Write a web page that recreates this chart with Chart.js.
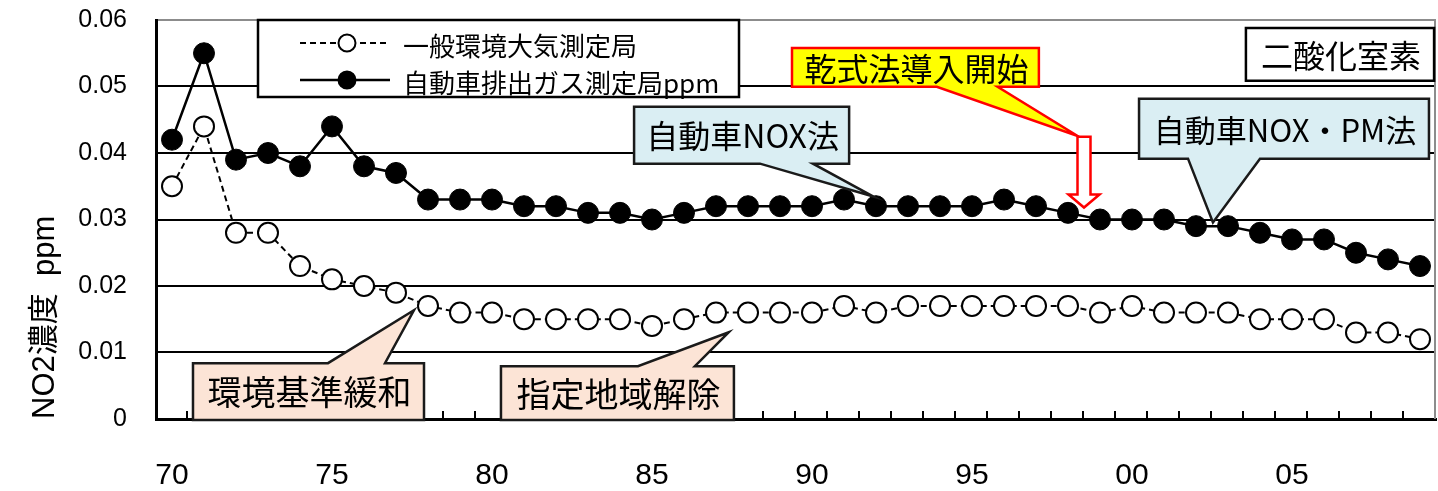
<!DOCTYPE html>
<html>
<head>
<meta charset="utf-8">
<script src="https://cdn.jsdelivr.net/npm/chart.js@4/dist/chart.umd.min.js"></script>
<style>
  html, body { margin: 0; padding: 0; background: #ffffff; }
  canvas { display: block; }
</style>
</head>
<body>
<canvas id="no2" width="1438" height="491"></canvas>
<script>
// 年度 (1970–2009)
const years = [
  1970, 1971, 1972, 1973, 1974, 1975, 1976, 1977, 1978, 1979,
  1980, 1981, 1982, 1983, 1984, 1985, 1986, 1987, 1988, 1989,
  1990, 1991, 1992, 1993, 1994, 1995, 1996, 1997, 1998, 1999,
  2000, 2001, 2002, 2003, 2004, 2005, 2006, 2007, 2008, 2009
];

// 一般環境大気測定局 年平均値 (ppm)
const ambientNO2 = [
  0.035, 0.044, 0.028, 0.028, 0.023, 0.021, 0.020, 0.019, 0.017, 0.016,
  0.016, 0.015, 0.015, 0.015, 0.015, 0.014, 0.015, 0.016, 0.016, 0.016,
  0.016, 0.017, 0.016, 0.017, 0.017, 0.017, 0.017, 0.017, 0.017, 0.016,
  0.017, 0.016, 0.016, 0.016, 0.015, 0.015, 0.015, 0.013, 0.013, 0.012
];

// 自動車排出ガス測定局 年平均値 (ppm)
const roadsideNO2 = [
  0.042, 0.055, 0.039, 0.040, 0.038, 0.044, 0.038, 0.037, 0.033, 0.033,
  0.033, 0.032, 0.032, 0.031, 0.031, 0.030, 0.031, 0.032, 0.032, 0.032,
  0.032, 0.033, 0.032, 0.032, 0.032, 0.032, 0.033, 0.032, 0.031, 0.030,
  0.030, 0.030, 0.029, 0.029, 0.028, 0.027, 0.027, 0.025, 0.024, 0.023
];

// 目盛ラベル
const xTickLabels = ['70', '75', '80', '85', '90', '95', '00', '05'];
const yTickLabels = ['0', '0.01', '0.02', '0.03', '0.04', '0.05', '0.06'];

const seriesNames = ['一般環境大気測定局', '自動車排出ガス測定局ppm'];

// 吹き出し: 位置は (年インデックス, 濃度) で指定
const callouts = [
  { text: '乾式法導入開始', box: [19.375, 0.0558, 27.09, 0.04995],
    tail: { side: 'bottom', from: 23.9, to: 25.8, tip: [28.3, 0.04255] },
    fill: '#ffff00', stroke: '#ff0000', size: 32 },
  { text: '自動車NOX法', box: [14.44, 0.04695, 21.16, 0.0384],
    tail: { side: 'bottom', from: 18.375, to: 20.03, tip: [21.92, 0.03345] },
    fill: '#daeef3', stroke: '#1a1a1a', size: 32 },
  { text: '自動車NOX・PM法', box: [30.22, 0.04815, 39.28, 0.03915],
    tail: { side: 'bottom', from: 31.75, to: 34.0, tip: [32.53, 0.02955] },
    fill: '#daeef3', stroke: '#1a1a1a', size: 31 },
  { text: '二酸化室素', box: [33.56, 0.0588, 39.44, 0.05085],
    tail: null, fill: '#ffffff', stroke: '#000000', size: 32 },
  { text: '環境基準緩和', box: [0.656, 0.0084, 7.875, -0.00015],
    tail: { side: 'top', from: 4.875, to: 6.656, tip: [7.56, 0.01635] },
    fill: '#fce4d6', stroke: '#1a1a1a', size: 34 },
  { text: '指定地域解除', box: [10.28, 0.00795, 17.56, -0.00015],
    tail: { side: 'top', from: 14.56, to: 16.34, tip: [17.4, 0.01305] },
    fill: '#fce4d6', stroke: '#1a1a1a', size: 34 }
];

// 乾式法導入を示す下向き矢印 (x: 年インデックス, y: 濃度)
const dryMethodArrow = { x: 28.5, top: 0.04245, shaftBottom: 0.03375, tip: 0.0318 };

const CJK = "'Noto Sans CJK JP', 'Noto Sans', sans-serif";
const LATIN = "'Liberation Sans', Arial, 'Noto Sans CJK JP', sans-serif";

// x 軸の内向き目盛線と枠線
const frameTicks = {
  id: 'frameTicks',
  afterDraw(chart) {
    const { ctx, chartArea: a, scales: { x } } = chart;
    ctx.save();
    ctx.strokeStyle = '#000';
    ctx.lineWidth = 2;
    ctx.beginPath();
    for (let k = 1; k <= years.length; k++) {
      const px = Math.round(x.getPixelForValue(k - 0.5)) - 1;
      ctx.moveTo(px, a.bottom);
      ctx.lineTo(px, a.bottom - 8);
    }
    ctx.stroke();
    ctx.strokeStyle = '#8c8c8c';
    ctx.beginPath();
    ctx.moveTo(a.right - 1, a.top);
    ctx.lineTo(a.right - 1, a.bottom);
    ctx.stroke();
    ctx.restore();
  }
};

function drawCallout(ctx, x, y, c) {
  const L = x.getPixelForValue(c.box[0]);
  const T = y.getPixelForValue(c.box[1]);
  const R = x.getPixelForValue(c.box[2]);
  const B = y.getPixelForValue(c.box[3]);
  ctx.beginPath();
  if (c.tail && c.tail.side === 'bottom') {
    const b1 = x.getPixelForValue(c.tail.from), b2 = x.getPixelForValue(c.tail.to);
    const tx = x.getPixelForValue(c.tail.tip[0]), ty = y.getPixelForValue(c.tail.tip[1]);
    ctx.moveTo(L, T); ctx.lineTo(R, T); ctx.lineTo(R, B);
    ctx.lineTo(b2, B); ctx.lineTo(tx, ty); ctx.lineTo(b1, B);
    ctx.lineTo(L, B);
  } else if (c.tail && c.tail.side === 'top') {
    const b1 = x.getPixelForValue(c.tail.from), b2 = x.getPixelForValue(c.tail.to);
    const tx = x.getPixelForValue(c.tail.tip[0]), ty = y.getPixelForValue(c.tail.tip[1]);
    ctx.moveTo(L, T); ctx.lineTo(b1, T); ctx.lineTo(tx, ty); ctx.lineTo(b2, T);
    ctx.lineTo(R, T); ctx.lineTo(R, B); ctx.lineTo(L, B);
  } else {
    ctx.rect(L, T, R - L, B - T);
  }
  ctx.closePath();
  ctx.fillStyle = c.fill;
  ctx.fill();
  ctx.lineWidth = 2.5;
  ctx.lineJoin = 'miter';
  ctx.strokeStyle = c.stroke;
  ctx.stroke();
  ctx.fillStyle = '#000';
  ctx.font = c.size + 'px ' + CJK;
  ctx.textAlign = 'center';
  ctx.textBaseline = 'middle';
  ctx.fillText(c.text, (L + R) / 2 + 1, (T + B) / 2 + 1);
}

function drawArrow(ctx, x, y, a) {
  const cx = x.getPixelForValue(a.x);
  const top = y.getPixelForValue(a.top);
  const sb = y.getPixelForValue(a.shaftBottom);
  const tip = y.getPixelForValue(a.tip);
  const sw = 6.5, hw = 15.5;
  ctx.beginPath();
  ctx.moveTo(cx - sw, top); ctx.lineTo(cx + sw, top); ctx.lineTo(cx + sw, sb);
  ctx.lineTo(cx + hw, sb); ctx.lineTo(cx, tip); ctx.lineTo(cx - hw, sb);
  ctx.lineTo(cx - sw, sb); ctx.closePath();
  ctx.fillStyle = '#ffffff';
  ctx.fill();
  ctx.lineWidth = 2.5;
  ctx.strokeStyle = '#ff0000';
  ctx.stroke();
}

// 凡例と注記
const notes = {
  id: 'notes',
  afterDraw(chart) {
    const { ctx, chartArea: a, scales: { x, y } } = chart;
    ctx.save();
    // 凡例枠
    const lx = a.left + 102, ly = a.top, lw = 481, lh = 77;
    ctx.fillStyle = '#fff';
    ctx.fillRect(lx, ly, lw, lh);
    ctx.lineWidth = 2.5;
    ctx.strokeStyle = '#000';
    ctx.strokeRect(lx, ly, lw, lh);
    const rows = [ly + 23, ly + 60];
    chart.data.datasets.forEach((ds, i) => {
      const ry = rows[i];
      ctx.beginPath();
      ctx.setLineDash(ds.borderDash || []);
      ctx.lineWidth = ds.borderWidth;
      ctx.strokeStyle = ds.borderColor;
      ctx.moveTo(lx + 42, ry);
      ctx.lineTo(lx + 132, ry);
      ctx.stroke();
      ctx.setLineDash([]);
      ctx.beginPath();
      ctx.arc(lx + 89, ry, 8.5, 0, Math.PI * 2);
      ctx.fillStyle = ds.pointBackgroundColor;
      ctx.fill();
      ctx.lineWidth = 2;
      ctx.strokeStyle = ds.pointBorderColor;
      ctx.stroke();
      ctx.fillStyle = '#000';
      ctx.font = '26px ' + CJK;
      ctx.textAlign = 'left';
      ctx.textBaseline = 'middle';
      ctx.fillText(ds.label, lx + 145, ry + 3);
    });
    callouts.forEach(c => drawCallout(ctx, x, y, c));
    drawArrow(ctx, x, y, dryMethodArrow);
    ctx.restore();
  }
};

new Chart(document.getElementById('no2'), {
  type: 'line',
  data: {
    labels: years,
    datasets: [
      {
        label: seriesNames[0],
        data: ambientNO2,
        borderColor: '#000',
        borderWidth: 2,
        borderDash: [6, 4],
        pointRadius: 10,
        pointBorderWidth: 2,
        pointBackgroundColor: '#fff',
        pointBorderColor: '#000',
        tension: 0
      },
      {
        label: seriesNames[1],
        data: roadsideNO2,
        borderColor: '#000',
        borderWidth: 2.5,
        pointRadius: 10.5,
        pointBorderWidth: 1,
        pointBackgroundColor: '#000',
        pointBorderColor: '#000',
        tension: 0
      }
    ]
  },
  options: {
    responsive: false,
    animation: false,
    devicePixelRatio: 1,
    layout: { autoPadding: false, padding: { top: 20, right: 2, left: 0, bottom: 0 } },
    plugins: { legend: { display: false }, tooltip: { enabled: false } },
    scales: {
      x: {
        type: 'category',
        offset: true,
        grid: { display: false, drawTicks: false },
        border: { display: true, color: '#000', width: 3 },
        ticks: {
          autoSkip: false,
          maxRotation: 0,
          padding: 39,
          color: '#000',
          font: { family: LATIN, size: 30 },
          callback: (v, i) => (i % 5 === 0 ? xTickLabels[i / 5] : '')
        },
        afterFit: s => {
          s.height = 72;
          s.paddingLeft = 0; s.paddingRight = 0;
        }
      },
      y: {
        min: 0,
        max: 0.06,
        grid: {
          drawTicks: false,
          lineWidth: 2,
          color: c => (c.index === 6 ? '#8c8c8c' : '#000')
        },
        border: { display: true, color: '#000', width: 3 },
        ticks: {
          stepSize: 0.01,
          padding: 29,
          color: '#000',
          font: { family: LATIN, size: 25 },
          callback: (v, i) => yTickLabels[i]
        },
        title: {
          display: true,
          text: 'NO2濃度  ppm',
          align: 'start',
          color: '#000',
          font: { family: LATIN, size: 31 },
          padding: { top: 27, bottom: 0 }
        },
        afterFit: s => {
          s.width = 156;
          s.paddingTop = 0; s.paddingBottom = 0;
        }
      }
    }
  },
  plugins: [frameTicks, notes]
});
</script>
</body>
</html>
